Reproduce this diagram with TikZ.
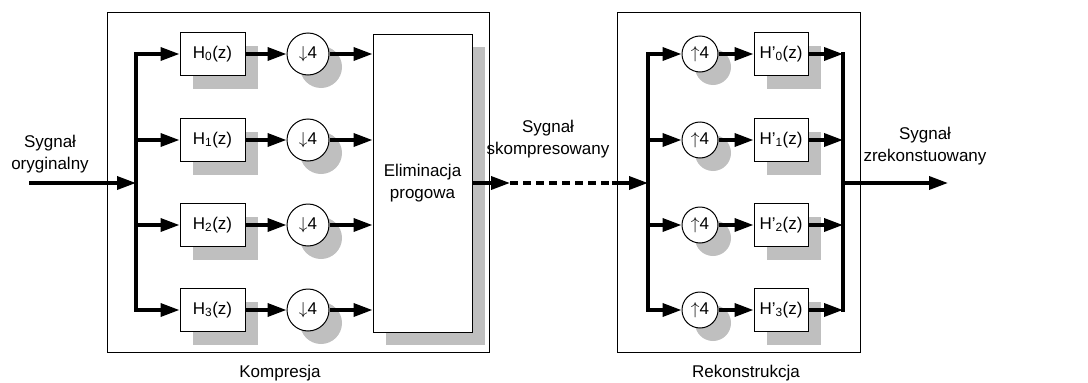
\documentclass[tikz,border=0pt]{standalone}
\usepackage{fontspec}
\setmainfont{Liberation Sans}
\usepackage{tikz}
\usetikzlibrary{arrows.meta}
\usetikzlibrary{shadows}
\usetikzlibrary{calc}
\tikzset{
  txt/.style={font=\fontsize{17}{22}\selectfont, align=center, inner sep=0},
  shade13/.style={drop shadow={shadow xshift=13pt, shadow yshift=-13pt, fill=black!25, opacity=1}},
  filt/.style={txt, draw, fill=white, line width=1pt, minimum width=65, minimum height=43, shade13},
  filtr/.style={filt, minimum width=54},
  ring/.style={txt, circle, draw, fill=white, line width=1pt, minimum size=#1, shade13},
  sig/.style={line width=3.5pt, -{Triangle[length=19pt,width=13pt]}},
  bus/.style={line width=3.5pt, line cap=rect},
  frame/.style={draw, line width=1pt, inner sep=0}
}

\begin{document}
\begin{tikzpicture}[x=1pt,y=-1pt]
\useasboundingbox (0,0) rectangle (1088,383);
\node[frame, minimum width=382, minimum height=340] (komp) at (298,182) {};
\node[frame, minimum width=243, minimum height=340] (rek) at (738.5,182) {};
\node[txt] (kompl) at (280,373) {Kompresja};
\node[txt] (rekl) at (746,373) {Rekonstrukcja};

\node[filt, minimum width=99, minimum height=298] (elim) at (422.5,183) {Eliminacja\\progowa};

\foreach \i/\y in {0/54,1/140,2/225,3/310} {
  \node[filt] (h\i) at (212.5,\y) {H\textsubscript{\i}(z)};
  \node[ring=42] (d\i) at (308,\y) {$\big\downarrow$4};
  \node[ring=36] (u\i) at (700,\y) {$\big\uparrow$4};
  \node[filtr] (g\i) at (781,\y) {H’\textsubscript{\i}(z)};
  \coordinate (bl\i) at (136,\y);
  \coordinate (br\i) at (648,\y);
  \coordinate (bo\i) at (843,\y);
}

\node[txt] (we) at (50,154) {Sygnał\\oryginalny};
\node[txt] (sk) at (548,139) {Sygnał\\skompresowany};
\node[txt] (wy) at (925,146) {Sygnał\\zrekonstuowany};

\coordinate (in) at (29,183);
\coordinate (blm) at (136,183);
\coordinate (t1) at (510,183);
\coordinate (t2) at (612,183);
\coordinate (brm) at (648,183);
\coordinate (bom) at (843,183);
\coordinate (out) at (948,183);

\draw[bus] (bl0) -- (bl3);
\draw[bus] (br0) -- (br3);
\draw[bus] (bo0) -- (bo3);
\draw[sig] (in) -- (blm);
\draw[sig] (elim.east |- t1) -- (t1);
\draw[line width=3.5pt, dash pattern=on 8pt off 5pt] (t1) -- (t2);
\draw[sig] (t2) -- (brm);
\draw[sig] (bom) -- (out);

\foreach \i in {0,...,3} {
  \draw[sig] (bl\i) -- (h\i);
  \draw[sig] (h\i) -- (d\i);
  \draw[sig] (d\i) -- (d\i -| elim.west);
  \draw[sig] (br\i) -- (u\i);
  \draw[sig] (u\i) -- (g\i);
  \draw[sig] (g\i) -- (bo\i);
}
\end{tikzpicture}
\end{document}
